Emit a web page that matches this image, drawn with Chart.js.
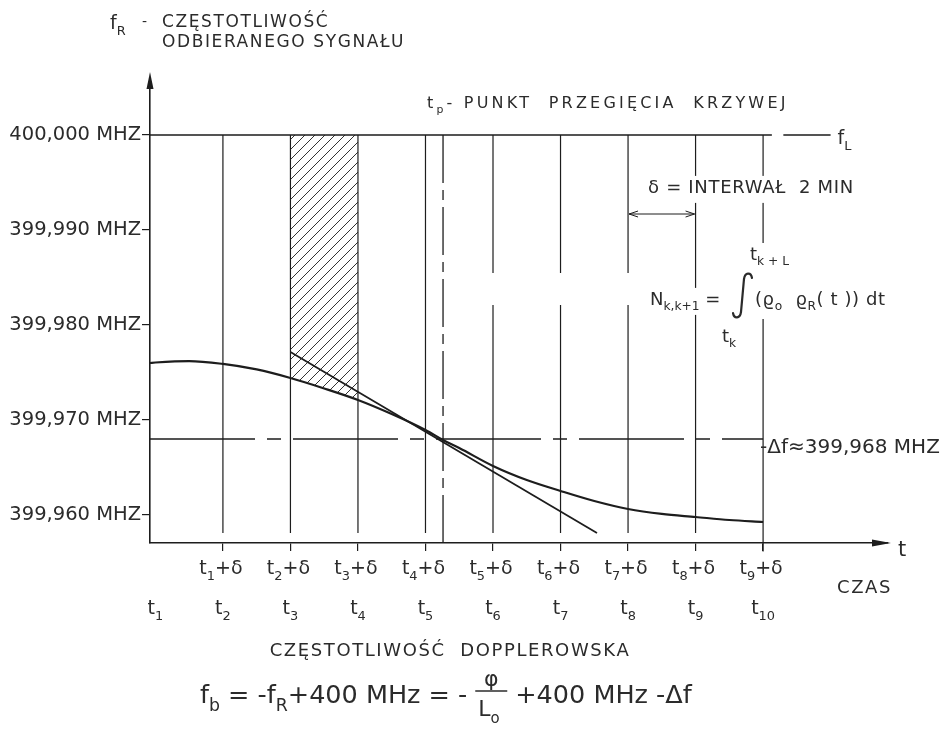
<!DOCTYPE html>
<html lang="pl">
<head>
<meta charset="utf-8">
<title>Częstotliwość dopplerowska</title>
<script src="https://cdn.jsdelivr.net/npm/chart.js@4.4.1/dist/chart.umd.min.js"></script>
<style>
  html, body { margin: 0; padding: 0; background: #fff; }
  canvas { display: block; }
</style>
</head>
<body>
<canvas id="chart" width="949" height="733"></canvas>
<script>
// chwile pomiaru t1..t10, oś czasu w jednostkach interwału δ
const tNames = ['1', '2', '3', '4', '5', '6', '7', '8', '9', '10'];
const tValues = [1, 2, 3, 4, 5, 6, 7, 8, 9, 10];
const gridT = [2, 3, 4, 5, 6, 7, 8, 9, 10];
const gridBroken = [6, 7, 8];

const yTicks = [399.96, 399.97, 399.98, 399.99, 400.00];
const yTickLabels = ['399,960 MHZ', '399,970 MHZ', '399,980 MHZ', '399,990 MHZ', '400,000 MHZ'];

// f_R (MHz)
const curveT = [0.92, 1, 1.5, 2, 2.5, 3, 3.5, 4, 4.5, 5, 5.26, 5.5, 6, 6.5, 7, 7.5, 8, 8.5, 9, 9.5, 10];
const curveF = [399.9760, 399.97605, 399.9762, 399.9759, 399.97532, 399.97442, 399.97332, 399.97211,
  399.97063, 399.96895, 399.96789, 399.96705, 399.96516, 399.96368, 399.96253, 399.96147,
  399.96063, 399.96011, 399.95979, 399.95947, 399.95926];

// styczna w punkcie przegięcia
const tangentT = [3.0, 7.54];
const tangentF = [399.97716, 399.95811];

const fL = 400.000;
const deltaF = 399.968;
const tInflection = 5.26;
const hatchFrom = 3, hatchTo = 4;

const ink = '#1d1d1d';
const textInk = '#2b2b2b';
const FONT = '"DejaVu Sans", "Liberation Sans", sans-serif';
const Y_MIN = 399.95705, Y_MAX = 400.0060;
const X_MIN = 0.92, X_MAX = 11.85;
const LINE_BOTTOM = 399.9581;
const GAP_TOP = 399.98547, GAP_BOTTOM = 399.98211;

// punkty dla datasetów
const pts = (xs, ys) => xs.map((t, i) => ({ x: t, y: ys[i] }));
const curvePts = pts(curveT, curveF);
const hatchPts = curvePts.filter(p => p.x >= hatchFrom && p.x <= hatchTo);
const tangentPts = pts(tangentT, tangentF);

const gridPts = [];
gridT.forEach(t => {
  const bottom = t === 10 ? Y_MIN - 0.0009 : LINE_BOTTOM;
  if (gridBroken.includes(t)) {
    gridPts.push({ x: t, y: fL }, { x: t, y: GAP_TOP }, { x: t, y: null },
      { x: t, y: GAP_BOTTOM }, { x: t, y: bottom }, { x: t, y: null });
  } else {
    gridPts.push({ x: t, y: fL }, { x: t, y: bottom }, { x: t, y: null });
  }
});

const fLPts = [{ x: X_MIN, y: fL }, { x: 10.13, y: fL }, { x: 10.13, y: null }, { x: 10.30, y: fL }, { x: 11.0, y: fL }];
const dfPts = [{ x: X_MIN, y: deltaF }, { x: 10, y: deltaF }];
const tpPts = [{ x: tInflection, y: fL }, { x: tInflection, y: Y_MIN - 0.0004 }];

function hatchPattern() {
  const c = document.createElement('canvas');
  c.width = 10; c.height = 10;
  const g = c.getContext('2d');
  g.strokeStyle = '#333';
  g.lineWidth = 1;
  g.beginPath();
  g.moveTo(0, 10); g.lineTo(10, 0);
  g.moveTo(-1, 1); g.lineTo(1, -1);
  g.moveTo(9, 11); g.lineTo(11, 9);
  g.stroke();
  return document.getElementById('chart').getContext('2d').createPattern(c, 'repeat');
}

// tekst z indeksami dolnymi _{..} i górnymi ^{..}
function parseRich(s) {
  const out = [];
  let buf = '', i = 0;
  while (i < s.length) {
    const c = s[i];
    if (c === '_' || c === '^') {
      if (buf) { out.push([buf, 0]); buf = ''; }
      const kind = c === '_' ? 1 : 2;
      if (s[i + 1] === '{') {
        const j = s.indexOf('}', i);
        out.push([s.slice(i + 2, j), kind]);
        i = j + 1;
      } else {
        out.push([s[i + 1], kind]);
        i += 2;
      }
    } else { buf += c; i++; }
  }
  if (buf) out.push([buf, 0]);
  return out;
}

function drawRich(ctx, s, x, y, o) {
  const size = o.size || 18, ls = o.ls || 0, align = o.align || 'left';
  const runs = parseRich(s);
  const fs = k => (k ? size * 0.68 : size);
  ctx.save();
  ctx.textAlign = 'left';
  ctx.textBaseline = 'alphabetic';
  ctx.letterSpacing = ls + 'px';
  const w = runs.map(([t, k]) => { ctx.font = fs(k) + 'px ' + FONT; return ctx.measureText(t).width; });
  const total = w.reduce((a, b) => a + b, 0);
  let cx = align === 'center' ? x - total / 2 : align === 'right' ? x - total : x;
  if (o.bg) {
    ctx.fillStyle = '#fff';
    ctx.fillRect(cx - 3, y - size * 0.95, total + 6, size * 1.5);
  }
  ctx.fillStyle = o.color || textInk;
  runs.forEach(([t, k], i) => {
    ctx.font = fs(k) + 'px ' + FONT;
    ctx.fillText(t, cx, y + (k === 1 ? size * 0.3 : k === 2 ? -size * 0.42 : 0));
    cx += w[i];
  });
  ctx.restore();
  return cx;
}

function arrowHead(ctx, x, y, dx, dy, len, half) {
  ctx.beginPath();
  ctx.moveTo(x, y);
  ctx.lineTo(x - dx * len - dy * half, y - dy * len + dx * half);
  ctx.lineTo(x - dx * len + dy * half, y - dy * len - dx * half);
  ctx.closePath();
  ctx.fill();
}

function openHead(ctx, x, y, dir) {
  ctx.beginPath();
  ctx.moveTo(x + dir * 9, y - 3);
  ctx.lineTo(x, y);
  ctx.lineTo(x + dir * 9, y + 3);
  ctx.stroke();
}

// znak całki rysowany ręcznie, grubszy niż glif
function integralSign(ctx, x, top, bottom) {
  ctx.save();
  ctx.lineWidth = 2.2;
  ctx.lineCap = 'round';
  ctx.strokeStyle = textInk;
  ctx.beginPath();
  ctx.moveTo(x + 19, top + 5);
  ctx.bezierCurveTo(x + 18, top - 1, x + 12, top - 1, x + 11, top + 6);
  ctx.lineTo(x + 8, bottom - 6);
  ctx.bezierCurveTo(x + 7, bottom + 1, x + 1, bottom + 1, x, bottom - 5);
  ctx.stroke();
  ctx.restore();
}

const sketch = {
  id: 'sketch',
  afterDraw(chart) {
    const { ctx, chartArea: a, scales: { x, y } } = chart;
    const X = v => x.getPixelForValue(v), Y = v => y.getPixelForValue(v);
    ctx.save();
    ctx.fillStyle = ink;
    ctx.strokeStyle = ink;
    // strzałki osi
    arrowHead(ctx, a.left, a.top - 6, 0, -1, 17, 3.5);
    arrowHead(ctx, a.right + 3, a.bottom, 1, 0, 19, 3.5);

    // opis osi pionowej
    drawRich(ctx, 'f_{R}', 110, 29, { size: 19 });
    drawRich(ctx, '-', 142, 26, { size: 14 });
    drawRich(ctx, 'CZĘSTOTLIWOŚĆ', 162, 27, { size: 17, ls: 1.6 });
    drawRich(ctx, 'ODBIERANEGO SYGNAŁU', 162, 47, { size: 17, ls: 1.6 });

    drawRich(ctx, 't_{p}- PUNKT  PRZEGIĘCIA  KRZYWEJ', 427, 108, { size: 16, ls: 3.2 });
    drawRich(ctx, 'f_{L}', X(11.0) + 7, Y(fL) + 9, { size: 19 });

    // interwał δ
    drawRich(ctx, 'δ = INTERWAŁ  2 MIN', 648, 193, { size: 18, ls: 0.7, bg: true });
    ctx.lineWidth = 1;
    const ya = 214;
    ctx.beginPath(); ctx.moveTo(X(8) + 1, ya); ctx.lineTo(X(9) - 1, ya); ctx.stroke();
    openHead(ctx, X(8) + 1, ya, 1);
    openHead(ctx, X(9) - 1, ya, -1);

    // całka Dopplera
    ctx.fillStyle = '#fff';
    ctx.fillRect(742, 243, 158, 76);
    drawRich(ctx, 'N_{k,k+1} =', 650, 305, { size: 18, bg: true });
    integralSign(ctx, 733, 273, 318);
    drawRich(ctx, '(ϱ_{o}  ϱ_{R}( t )) dt', 755, 305, { size: 18, ls: 0.6 });
    drawRich(ctx, 't_{k + L}', 750, 260, { size: 18 });
    drawRich(ctx, 't_{k}', 722, 342, { size: 18 });

    // Δf
    drawRich(ctx, '-Δf≈399,968 MHZ', X(10) - 3, Y(deltaF) + 14, { size: 20 });

    // etykiety osi czasu
    tValues.forEach((t, i) => {
      drawRich(ctx, 't_{' + tNames[i] + '}', X(t), 614, { size: 19, align: 'center' });
      if (i > 0) drawRich(ctx, 't_{' + tNames[i - 1] + '}+δ', X(t) - 2, 574, { size: 19, align: 'center' });
    });
    drawRich(ctx, 't', a.right + 10, a.bottom + 13, { size: 21 });
    drawRich(ctx, 'CZAS', 837, 593, { size: 18, ls: 1.6 });

    drawRich(ctx, 'CZĘSTOTLIWOŚĆ  DOPPLEROWSKA', 450, 656, { size: 18, ls: 1.6, align: 'center' });

    // wzór
    const B = 703;
    let cx = drawRich(ctx, 'f_{b} = -f_{R}+400 MHz = -', 200, B, { size: 25.5 });
    const fx = cx + 8;
    ctx.lineWidth = 1.4;
    ctx.strokeStyle = textInk;
    ctx.beginPath(); ctx.moveTo(fx, B - 12); ctx.lineTo(fx + 32, B - 12); ctx.stroke();
    drawRich(ctx, 'φ', fx + 16, B - 17, { size: 22, align: 'center' });
    drawRich(ctx, 'L_{o}', fx + 3, B + 13, { size: 22 });
    drawRich(ctx, '+400 MHz -Δf', fx + 40, B, { size: 25.5 });
    ctx.restore();
  }
};

const line = (label, data, extra) => Object.assign({
  label, data, borderColor: ink, borderWidth: 1.2, pointRadius: 0,
  fill: false, tension: 0, spanGaps: false, clip: false
}, extra);

new Chart(document.getElementById('chart'), {
  type: 'line',
  data: {
    datasets: [
      line('f_R', curvePts, { borderWidth: 2.2, cubicInterpolationMode: 'monotone' }),
      line('styczna', tangentPts, { borderWidth: 1.8 }),
      line('f_L', fLPts, { borderWidth: 1.5 }),
      line('Δf', dfPts, { borderWidth: 1.3, borderDash: [105, 12, 14, 12] }),
      line('t_p', tpPts, { borderWidth: 1.3, borderDash: [48, 7, 10, 7] }),
      line('siatka', gridPts, { borderWidth: 1.2 }),
      line('obszar', hatchPts, {
        borderColor: 'transparent', cubicInterpolationMode: 'monotone',
        fill: { value: fL }, backgroundColor: hatchPattern()
      })
    ]
  },
  options: {
    responsive: false,
    animation: false,
    events: [],
    layout: { padding: { left: 0, top: 78, right: 61, bottom: 190 } },
    plugins: { legend: { display: false }, tooltip: { enabled: false } },
    scales: {
      x: {
        type: 'linear', min: X_MIN, max: X_MAX,
        afterBuildTicks: s => { s.ticks = gridT.map(v => ({ value: v })); },
        afterFit: s => { s.height = 0; },
        ticks: { display: false },
        grid: { drawOnChartArea: false, drawTicks: true, tickLength: 8, color: ink, lineWidth: 1.2 },
        border: { display: true, color: ink, width: 1.6 }
      },
      y: {
        type: 'linear', min: Y_MIN, max: Y_MAX,
        afterBuildTicks: s => { s.ticks = yTicks.map(v => ({ value: v })); },
        afterFit: s => { s.width = 150; },
        ticks: {
          autoSkip: false, padding: 1, color: textInk,
          font: { family: FONT, size: 19.5 },
          callback: v => yTickLabels[yTicks.findIndex(t => Math.abs(t - v) < 1e-6)]
        },
        grid: { drawOnChartArea: false, drawTicks: true, tickLength: 8, color: ink, lineWidth: 1.2 },
        border: { display: true, color: ink, width: 1.6 }
      }
    }
  },
  plugins: [sketch]
});
</script>
</body>
</html>
